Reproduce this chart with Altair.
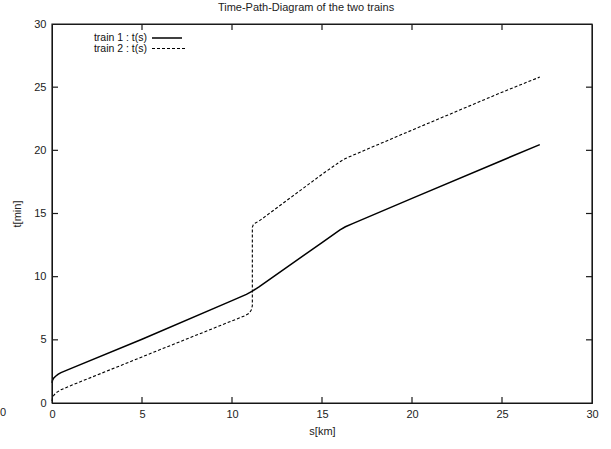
import altair as alt
import pandas as pd

# Train 1 : t(s)
s1 = [0.0, 0.03, 0.1, 0.2, 0.35, 0.5, 1.0, 5.0, 10.0, 10.8, 11.13, 11.5, 15.0, 16.0, 16.3, 16.7, 20.0, 25.0, 27.1]
t1 = [1.6, 1.8, 1.98, 2.12, 2.28, 2.4, 2.7, 5.05, 8.1, 8.6, 8.85, 9.2, 12.7, 13.7, 13.95, 14.2, 16.2, 19.2, 20.45]

# Train 2 : t(s)
s2 = [0.0, 0.03, 0.1, 0.2, 0.35, 0.5, 1.0, 5.0, 10.0, 10.7, 10.95, 11.07, 11.13, 11.13, 11.18, 11.3, 11.5, 15.0, 16.0, 16.3, 16.7, 20.0, 25.0, 27.1]
t2 = [0.15, 0.4, 0.6, 0.78, 0.92, 1.05, 1.35, 3.65, 6.5, 6.9, 7.1, 7.35, 7.7, 13.9, 14.1, 14.25, 14.4, 18.1, 19.1, 19.35, 19.6, 21.6, 24.6, 25.8]

x_ticks = [0, 5, 10, 15, 20, 25, 30]
y_ticks = [0, 5, 10, 15, 20, 25, 30]

df1 = pd.DataFrame({"s": s1, "t": t1, "o": range(len(s1))})
df2 = pd.DataFrame({"s": s2, "t": t2, "o": range(len(s2))})

W, H = 540, 379
FONT = "Liberation Sans"
XMIN, XMAX, YMIN, YMAX = 0, 30, 0, 30
TLX = 6 * (XMAX - XMIN) / W   # 6 px tick length in data units
TLY = 6 * (YMAX - YMIN) / H

xs = alt.Scale(domain=[XMIN, XMAX], nice=False, zero=False)
ys = alt.Scale(domain=[YMIN, YMAX], nice=False, zero=False)

xaxis = alt.Axis(values=x_ticks, title="s[km]", tickSize=0, domain=True, domainColor="#111111",
                 domainWidth=1, grid=False,
                 labelFont=FONT, labelFontSize=11, labelColor="#222", labelPadding=5,
                 titleFont=FONT, titleFontSize=11, titleFontWeight="normal", titleColor="#222",
                 titlePadding=6, labelFlush=False)
yaxis = alt.Axis(values=y_ticks, title="t[min]", tickSize=0, domain=True, domainColor="#111111",
                 domainWidth=1, grid=False,
                 labelFont=FONT, labelFontSize=11, labelColor="#222", labelPadding=6,
                 titleFont=FONT, titleFontSize=11, titleFontWeight="normal", titleColor="#222",
                 titlePadding=11, labelFlush=False)

base1 = alt.Chart(df1).mark_line(color="black", strokeWidth=1.5).encode(
    x=alt.X("s:Q", scale=xs, axis=xaxis),
    y=alt.Y("t:Q", scale=ys, axis=yaxis),
    order="o:Q",
)
line2 = alt.Chart(df2).mark_line(color="black", strokeWidth=1.1, strokeDash=[3, 2]).encode(
    x=alt.X("s:Q", scale=xs),
    y=alt.Y("t:Q", scale=ys),
    order="o:Q",
)

# inward, mirrored ticks (gnuplot style) in data coordinates
inner_x = x_ticks[1:-1]
inner_y = y_ticks[1:-1]
tick_df = pd.DataFrame(
    [{"a": v, "a2": v, "b": YMIN, "b2": YMIN + TLY} for v in inner_x]
    + [{"a": v, "a2": v, "b": YMAX, "b2": YMAX - TLY} for v in inner_x]
    + [{"a": XMIN, "a2": XMIN + TLX, "b": v, "b2": v} for v in inner_y]
    + [{"a": XMAX, "a2": XMAX - TLX, "b": v, "b2": v} for v in inner_y]
)
ticks = alt.Chart(tick_df).mark_rule(stroke="#1a1a1a", strokeWidth=1.2).encode(
    x=alt.X("a:Q", scale=xs), x2="a2:Q",
    y=alt.Y("b:Q", scale=ys), y2="b2:Q",
)

frame = alt.Chart(pd.DataFrame({"f": [2]})).mark_rect(fillOpacity=0, stroke="#1a1a1a", strokeWidth=1.2).encode(
    x=alt.value(0), x2=alt.value(W), y=alt.value(0), y2=alt.value(H)
)

leg_names = ["train 1 : t(s)", "train 2 : t(s)"]
leg_txt1 = alt.Chart(pd.DataFrame({"n": [leg_names[0]]})).mark_text(
    align="right", baseline="middle", font=FONT, fontSize=10.5, color="#111").encode(
    text="n:N", x=alt.value(95), y=alt.value(14))
leg_txt2 = alt.Chart(pd.DataFrame({"n": [leg_names[1]]})).mark_text(
    align="right", baseline="middle", font=FONT, fontSize=10.5, color="#111").encode(
    text="n:N", x=alt.value(95), y=alt.value(24.5))
leg_l1 = alt.Chart(pd.DataFrame({"a": [0]})).mark_rule(color="black", strokeWidth=1.5).encode(
    x=alt.value(100), x2=alt.value(130), y=alt.value(14))
leg_l2 = alt.Chart(pd.DataFrame({"a": [1]})).mark_rule(color="black", strokeWidth=1.1, strokeDash=[3, 2]).encode(
    x=alt.value(100), x2=alt.value(133), y=alt.value(24.5))

stray = alt.Chart(pd.DataFrame({"n": ["0"]})).mark_text(
    align="center", baseline="middle", font=FONT, fontSize=11, color="#222").encode(
    text="n:N", x=alt.value(-49), y=alt.value(H + 10))

chart = alt.layer(
    base1, line2, ticks, frame,
    leg_txt1, leg_txt2, leg_l1, leg_l2, stray
).properties(
    width=W, height=H, background="white",
    title=alt.TitleParams("Time-Path-Diagram of the two trains", font=FONT, fontSize=11,
                          fontWeight="normal", color="#222", anchor="middle", dx=-16, offset=5),
    padding={"left": 52, "top": 24, "right": 19, "bottom": 46},
    autosize=alt.AutoSizeParams(type="none"),
).configure_view(stroke="#1a1a1a", strokeWidth=1)

chart.save("out.html", embed_options={"renderer": "svg", "actions": False})
